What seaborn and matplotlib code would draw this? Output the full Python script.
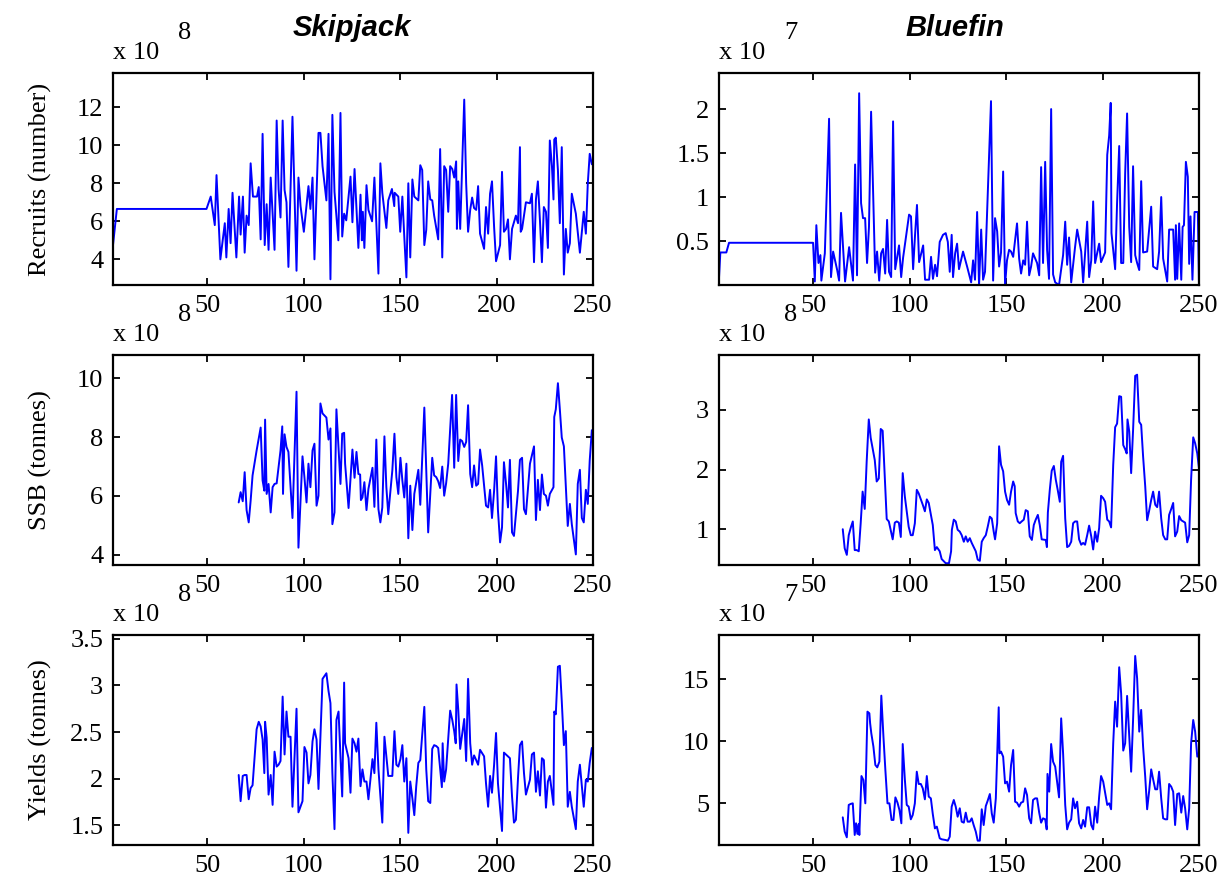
import numpy as np
import pandas as pd
import matplotlib
matplotlib.use("Agg")
import matplotlib.pyplot as plt
import seaborn as sns
from matplotlib.ticker import FuncFormatter

# ---- data (values in units of the axis multiplier) ----

# Skipjack recruits (x 10^8)
sk_rec_year = [1, 3, 49.5, 51.7, 53.8, 54.7, 56.7, 59, 59.8, 61,
               62, 63, 65, 66.4, 67.2, 68.4, 69.3, 70.3, 71.4, 72.4,
               73.6, 75.7, 76.6, 77.6, 78.6, 79.7, 80.7, 81.7, 82.8, 84.8,
               85.9, 86.9, 87.9, 89, 90, 91, 92, 94.1, 96.2, 97.2,
               98.3, 100, 102.4, 103.4, 104.5, 105.5, 107.6, 108.6, 109.7, 111.7,
               112.8, 113.8, 114.8, 115.9, 117.9, 119, 119.9, 120.9, 122, 124.2,
               125.2, 126.3, 128.3, 129.4, 130.1, 130.6, 131.4, 132.5, 133.5, 135.4,
               136.6, 138.7, 139.7, 140.7, 142.8, 143.8, 145.7, 146.9, 147.1, 149,
               150, 151.1, 152.1, 153.2, 154.2, 155.2, 156.3, 157.3, 159.4, 160.4,
               161.4, 162.5, 163.5, 164.5, 165.6, 166.6, 167.6, 169.7, 170.7, 171.8,
               172.8, 173.8, 174.9, 175.9, 177, 178, 179, 179.4, 180.1, 181.1,
               183.2, 184.2, 185.2, 186.3, 187.3, 188.3, 189.4, 190.4, 191.4, 193.5,
               194.5, 195.6, 196.6, 197.6, 198.7, 199.7, 201.8, 202.8, 203.8, 204.9,
               205.9, 206.9, 208, 210, 211.1, 212.1, 212.5, 213.2, 215.2, 217.3,
               218.3, 219.4, 220.4, 221.4, 222.5, 223.5, 224.5, 225.6, 226.6, 227.6,
               228.7, 229.5, 229.9, 230.7, 231.8, 232.8, 233.8, 234.9, 235.9, 236.9,
               238, 239, 241.1, 243.2, 245.2, 246.3, 247.3, 248.3, 249.4]
sk_rec = [4.75, 6.65, 6.65, 7.3, 5.8, 8.43, 4.0, 5.9, 4.1, 6.65,
          4.85, 7.5, 4.1, 7.3, 5.3, 7.3, 4.35, 6.3, 5.8, 9.05,
          7.3, 7.3, 7.8, 5.05, 10.6, 4.75, 6.9, 4.5, 8.3, 4.5,
          11.3, 7.7, 6.2, 11.3, 7.65, 7.0, 3.6, 11.5, 3.4, 8.3,
          6.8, 5.45, 7.85, 6.65, 8.3, 4.0, 10.65, 10.65, 8.9, 7.1,
          10.6, 2.95, 11.6, 7.55, 5.0, 11.7, 5.2, 6.4, 6.05, 8.35,
          5.95, 8.75, 4.6, 7.4, 5.0, 6.5, 4.6, 7.9, 6.6, 6.0,
          8.3, 3.25, 9.05, 7.5, 5.65, 7.1, 7.7, 6.8, 7.5, 7.3,
          5.45, 7.3, 5.2, 3.05, 8.0, 4.1, 8.2, 7.3, 7.1, 8.95,
          8.7, 4.75, 5.55, 8.1, 7.15, 7.1, 6.3, 5.05, 9.8, 4.1,
          8.9, 8.7, 6.5, 8.9, 8.75, 8.3, 9.15, 5.6, 8.1, 5.6,
          12.4, 8.0, 5.45, 6.6, 7.25, 6.7, 6.6, 7.85, 5.35, 4.55,
          6.75, 5.35, 7.45, 8.1, 5.7, 3.9, 4.75, 8.6, 5.45, 5.6,
          6.1, 4.0, 5.6, 6.3, 5.9, 9.9, 5.45, 5.6, 7.0, 6.95,
          7.45, 3.85, 7.15, 8.1, 6.0, 3.85, 6.75, 6.5, 4.6, 10.25,
          8.9, 7.15, 10.3, 10.4, 8.7, 5.9, 9.9, 3.2, 5.6, 4.35,
          4.85, 7.45, 6.4, 4.35, 6.5, 5.35, 8.0, 9.55, 9.0]

# Skipjack SSB (x 10^8)
sk_ssb_year = [66.2, 67.2, 68.3, 69.3, 70.3, 71.4, 72.4, 73.4, 75.5, 77.6,
               78.6, 79.5, 79.9, 80.7, 81.7, 82.8, 83.8, 84.8, 85.9, 87.9,
               88.8, 89.2, 90, 91, 92, 94.1, 96.2, 97.2, 99.3, 100.3,
               101.4, 102.4, 103.4, 104.5, 105.5, 106.6, 107.6, 108.6, 109.7, 111.7,
               112.8, 113.8, 114.8, 115.9, 116.9, 119, 119.9, 120.9, 121.4, 123.2,
               125.2, 126.3, 127.3, 128.3, 129.2, 129.6, 130.4, 131.4, 132.5, 133.5,
               135.6, 136.6, 137.6, 138.7, 139.7, 140.7, 141.8, 142.8, 143.8, 145.9,
               147, 148, 149, 150.1, 151.1, 152.1, 153.2, 154.2, 155.2, 156.3,
               157.3, 158.3, 159.4, 160.4, 162.5, 164.5, 166.6, 167.6, 168.7, 169.7,
               170.7, 171.8, 172.8, 173.8, 174.9, 176.9, 178, 179, 180.1, 181.1,
               182.1, 183.2, 184.2, 185.2, 186.3, 187.3, 188.3, 189.4, 190.4, 191.4,
               192.5, 194.5, 195.6, 196.6, 197.6, 198.7, 199.7, 200.7, 201.8, 202.8,
               203.8, 204.9, 205.9, 206.9, 208, 209, 211.1, 212.1, 213.2, 214.2,
               215.2, 217.3, 219.4, 220.4, 221.4, 222.5, 223.5, 224.5, 225.6, 226.6,
               227.6, 229.5, 229.9, 230.7, 231.8, 232.8, 233.8, 234.9, 236.9, 238,
               239, 241.1, 242.1, 243.2, 244.2, 245.2, 246.3, 247.3, 248.3, 249.4,
               250]
sk_ssb = [5.78, 6.13, 5.82, 6.81, 5.52, 5.1, 5.84, 6.7, 7.55, 8.33,
          6.53, 6.18, 8.6, 6.07, 6.41, 5.44, 6.3, 6.41, 6.43, 7.55,
          8.37, 6.07, 8.1, 7.67, 7.5, 5.25, 9.55, 4.24, 7.35, 6.64,
          5.78, 7.1, 6.3, 7.55, 7.78, 5.67, 6.01, 9.15, 8.81, 8.67,
          7.92, 8.3, 5.04, 5.44, 8.95, 6.41, 8.12, 8.15, 7.1, 5.59,
          7.58, 6.62, 7.5, 6.75, 6.73, 5.86, 5.95, 6.47, 5.52, 6.24,
          6.96, 5.63, 7.92, 5.55, 5.1, 5.61, 8.03, 6.3, 5.38, 6.87,
          8.12, 6.64, 6.07, 7.3, 6.53, 5.95, 7.1, 4.56, 6.35, 4.84,
          6.07, 6.47, 6.89, 5.7, 9.01, 4.76, 7.3, 6.7, 6.64, 6.5,
          6.27, 7.0, 6.01, 6.43, 7.1, 9.44, 6.96, 9.44, 7.19, 7.92,
          7.87, 7.67, 7.84, 9.09, 6.75, 6.3, 7.04, 6.35, 6.41, 7.58,
          7.04, 5.67, 5.61, 6.21, 5.25, 6.18, 7.35, 5.5, 4.42, 4.93,
          7.15, 6.41, 5.61, 7.23, 4.76, 4.64, 6.18, 7.23, 7.3, 5.55,
          5.38, 7.1, 7.69, 5.18, 6.55, 5.52, 6.73, 6.07, 6.01, 5.67,
          6.07, 6.3, 8.69, 8.95, 9.84, 8.95, 7.99, 7.69, 4.98, 5.73,
          5.04, 4.01, 6.41, 6.89, 5.25, 5.1, 6.21, 5.73, 7.21, 8.24,
          8.15]

# Skipjack yields (x 10^8)
sk_yld_year = [66.2, 67.2, 68.3, 69.3, 70.3, 71.4, 72.4, 73.4, 75.5, 76.6,
               77.6, 78.6, 79.5, 79.9, 80.7, 81.7, 82.8, 83.8, 84.8, 85.9,
               86.9, 87.9, 89, 90, 91, 92, 93.1, 94.1, 96.2, 97.2,
               99.3, 100.3, 101.4, 102.4, 103.4, 104.5, 105.5, 106.6, 107.6, 109.7,
               111.7, 112.8, 113.8, 114.8, 115.9, 116.9, 118, 119.9, 120.9, 121.4,
               123.2, 124.2, 125.2, 126.3, 127.3, 128.3, 129.4, 130.4, 131.4, 132.5,
               133.5, 135.6, 136.6, 137.6, 138.7, 140.7, 141.8, 142.8, 143.8, 145.9,
               147, 148, 149, 150.1, 151.1, 152.1, 153.2, 154.2, 155.2, 156.3,
               157.3, 158.3, 159.4, 160.4, 162.5, 163.5, 164.5, 165.6, 166.6, 167.6,
               168.7, 169.7, 171.6, 172, 172.8, 173.8, 175.9, 177, 178, 178.8,
               179.2, 180.1, 181.1, 183.2, 184.2, 185.2, 186.3, 187.3, 188.3, 189.4,
               190.4, 191.4, 193.5, 194.5, 195.6, 196.6, 197.6, 198.7, 199.7, 200.7,
               202.8, 203.8, 205.9, 206.9, 208, 209, 210, 211.1, 212.1, 213.2,
               214.2, 215.2, 217.3, 218.3, 219.4, 220.4, 221.4, 222.5, 223.5, 224.5,
               225.6, 226.6, 227.6, 229.5, 229.9, 230.7, 231.8, 232.8, 233.8, 234.9,
               235.9, 236.9, 238, 239, 241.1, 242.1, 243.2, 244.2, 245.2, 246.3,
               247.3, 248.3, 249.4, 250]
sk_yld = [2.04, 1.76, 2.03, 2.04, 2.04, 1.78, 1.9, 1.93, 2.53, 2.61,
          2.56, 2.42, 2.06, 2.61, 2.44, 1.83, 2.04, 1.72, 2.29, 2.13,
          2.15, 2.19, 2.88, 2.26, 2.72, 2.45, 2.45, 1.7, 2.75, 1.64,
          1.76, 2.34, 2.28, 1.95, 2.04, 2.4, 2.53, 2.42, 1.89, 3.07,
          3.13, 2.94, 2.81, 2.06, 1.46, 2.63, 2.72, 1.81, 3.03, 2.38,
          2.22, 1.85, 2.43, 2.38, 2.29, 2.43, 1.92, 2.1, 1.97, 1.97,
          1.78, 2.21, 2.06, 2.6, 2.1, 1.53, 2.45, 2.24, 2.03, 2.03,
          2.51, 2.15, 2.13, 2.21, 2.36, 1.97, 2.22, 1.42, 1.97, 1.79,
          1.61, 1.92, 2.17, 2.2, 2.77, 2.1, 1.76, 1.74, 2.32, 2.36,
          2.35, 2.33, 1.91, 2.38, 1.97, 2.1, 2.73, 2.63, 2.51, 2.38,
          3.01, 2.74, 2.32, 2.64, 2.19, 3.07, 2.38, 2.15, 2.25, 2.2,
          2.15, 2.31, 2.24, 1.95, 1.7, 2.03, 1.85, 2.15, 2.49, 1.95,
          1.44, 2.28, 2.24, 2.22, 1.81, 1.53, 1.56, 2.01, 2.36, 2.4,
          2.06, 1.83, 1.99, 2.26, 2.28, 1.86, 2.08, 1.82, 2.22, 2.2,
          1.69, 1.97, 2.03, 1.72, 2.72, 2.69, 3.2, 3.21, 2.83, 2.36,
          2.51, 1.7, 1.86, 1.7, 1.46, 1.97, 2.15, 1.92, 1.7, 1.99,
          1.97, 2.17, 2.33, 2.3]

# Bluefin recruits (x 10^7)
bf_rec_year = [0.8, 1.7, 4.8, 6.2, 49.8, 50.7, 51.5, 52.6, 53.6, 54.1,
               55.9, 58.1, 59.1, 60.2, 62.3, 63.3, 64.3, 66.4, 68.5, 70.5,
               71.6, 72.6, 73.7, 74.7, 75.7, 76.8, 77.8, 78.8, 79.9, 82,
               83, 84.1, 85.1, 86.1, 87.2, 88.2, 89.2, 90.3, 91.3, 92.4,
               94.4, 95.5, 96.5, 99.6, 100.6, 101.7, 102.7, 103.7, 104.8, 106.9,
               107.9, 110, 111, 112, 113.1, 114.1, 115.5, 117.2, 118.6, 119.7,
               120.7, 121.7, 122.4, 123.5, 124.5, 125.5, 127.6, 129.7, 131.8, 132.8,
               133.8, 134.9, 135.9, 137, 138, 139, 142.1, 143.2, 144.2, 145.3,
               146.3, 147.3, 148.4, 149.4, 150.4, 151.5, 152.5, 153.6, 154.6, 155.6,
               156.7, 157.7, 158.8, 159.8, 160.8, 161.9, 162.9, 163.9, 166, 167.1,
               168.1, 169.1, 170.2, 171.2, 172.2, 173.3, 174.3, 175.4, 177.4, 179.5,
               180.6, 181.6, 182.6, 183.7, 185.7, 186.8, 187.8, 188.9, 189.9, 192,
               193, 194.1, 195.1, 196.1, 198.2, 199.2, 201.3, 202.4, 203.4, 204.2,
               204.6, 206.5, 207.5, 208.6, 209.6, 210.7, 211.7, 212.7, 213.8, 214.8,
               215.8, 216.9, 217.9, 219, 220, 221, 223.1, 225.2, 226.2, 228.3,
               229.3, 230.4, 231.4, 233.5, 234.5, 236.6, 237.6, 238, 238.7, 239.7,
               240.8, 241.5, 242.2, 243.2, 244.2, 244.9, 245.6, 246.6, 247.7, 249.4,
               250]
bf_rec = [0.0, 0.37, 0.37, 0.48, 0.48, 0.04, 0.68, 0.25, 0.34, 0.05,
          0.36, 1.89, 0.09, 0.38, 0.17, 0.05, 0.82, 0.04, 0.43, 0.05,
          1.37, 0.11, 2.18, 0.93, 0.76, 0.76, 0.25, 0.66, 1.97, 0.14,
          0.38, 0.05, 0.36, 0.41, 0.13, 0.74, 0.15, 0.09, 1.86, 0.18,
          0.45, 0.09, 0.31, 0.8, 0.78, 0.18, 0.57, 0.91, 0.26, 0.45,
          0.06, 0.06, 0.32, 0.07, 0.23, 0.1, 0.49, 0.57, 0.59, 0.49,
          0.15, 0.57, 0.09, 0.36, 0.47, 0.18, 0.38, 0.21, 0.03, 0.28,
          0.06, 0.83, 0.0, 0.63, 0.06, 0.15, 2.09, 0.05, 0.76, 0.61,
          0.21, 0.37, 1.29, 0.0, 0.28, 0.4, 0.38, 0.32, 0.51, 0.7,
          0.3, 0.13, 0.28, 0.23, 0.72, 0.11, 0.21, 0.36, 0.25, 0.11,
          1.34, 0.25, 1.4, 0.4, 0.07, 2.0, 0.12, 0.03, 0.0, 0.34,
          0.72, 0.23, 0.54, 0.03, 0.43, 0.63, 0.51, 0.38, 0.03, 0.72,
          0.09, 0.28, 0.95, 0.25, 0.47, 0.26, 0.37, 1.48, 1.7, 2.07,
          0.59, 0.18, 0.93, 1.58, 0.25, 0.25, 1.27, 1.95, 0.66, 0.26,
          1.35, 0.34, 0.25, 0.17, 1.18, 0.37, 0.38, 0.89, 0.21, 0.18,
          0.38, 1.0, 0.3, 0.04, 0.63, 0.63, 0.06, 0.68, 0.07, 0.7,
          0.06, 0.66, 0.68, 1.4, 1.23, 0.24, 0.78, 0.06, 0.83, 0.83,
          0.0]

# Bluefin SSB (x 10^8)
bf_ssb_year = [65.2, 66.2, 67.3, 68.3, 69.3, 70.4, 71.4, 72.4, 73.5, 74.5,
               75.5, 76.6, 77.6, 78.7, 79.7, 81.8, 82.8, 83.9, 84.9, 85.9,
               88, 89.1, 91.1, 92.2, 93.2, 94.3, 95.3, 96.3, 97.4, 99.4,
               100.5, 101.5, 102.6, 103.6, 104.6, 106.7, 107.8, 108.8, 109.8, 111.9,
               113, 114, 115.5, 116.5, 118.6, 120.3, 121.4, 121.8, 122.8, 123.8,
               124.8, 125.9, 126.9, 128, 129, 130, 131.1, 132.1, 134.2, 135.2,
               136.3, 137.3, 138.3, 139.4, 140.4, 141.5, 142.5, 143.5, 144.2, 145.3,
               146.3, 147.3, 148.4, 149.4, 150.4, 151.5, 152.5, 153.6, 154.4, 154.9,
               156, 157, 158, 159.1, 160.1, 161.2, 162.2, 163.3, 164.3, 165.3,
               166.4, 167.4, 168.4, 170.5, 171.1, 171.6, 172.6, 173.6, 174.7, 175.7,
               176.7, 177.8, 178.5, 179.5, 180.6, 181.6, 182.6, 183.7, 184.7, 185.7,
               186.8, 187.8, 188.9, 189.9, 190.9, 192, 193, 194.1, 195.1, 196.1,
               197.2, 198.2, 199.2, 200.3, 201.3, 202.4, 203.4, 204.4, 205.5, 206.5,
               207.5, 208.6, 209.6, 210.7, 211.7, 212.5, 212.9, 213.8, 214.8, 215.8,
               216.9, 217.9, 219, 220, 221, 222.1, 223.1, 224.2, 225.2, 226.2,
               227.3, 228.3, 229.3, 230.4, 231.4, 232.5, 233.5, 234.5, 235.6, 236.6,
               237.6, 238.7, 239.7, 240.8, 241.8, 242.8, 243.9, 244.9, 245.9, 247,
               248, 249.1, 250]
bf_ssb = [1.0, 0.68, 0.57, 0.9, 1.02, 1.13, 0.65, 0.65, 0.63, 1.1,
          1.63, 1.34, 2.13, 2.84, 2.53, 2.16, 1.8, 1.85, 2.68, 2.65,
          1.17, 1.13, 0.83, 1.11, 1.13, 1.11, 0.87, 1.94, 1.55, 1.04,
          0.9, 0.9, 1.1, 1.66, 1.6, 1.41, 1.3, 1.5, 1.44, 1.07,
          0.65, 0.7, 0.63, 0.5, 0.43, 0.43, 0.63, 0.99, 1.16, 1.13,
          0.99, 0.96, 0.9, 0.79, 0.88, 0.79, 0.85, 0.77, 0.63, 0.49,
          0.47, 0.79, 0.85, 0.9, 1.04, 1.21, 1.18, 0.96, 0.83, 1.1,
          2.39, 2.08, 1.97, 1.63, 1.49, 1.41, 1.63, 1.8, 1.72, 1.27,
          1.13, 1.1, 1.13, 1.16, 1.32, 1.3, 0.88, 0.82, 1.07, 1.16,
          1.24, 1.07, 0.83, 0.82, 0.7, 1.28, 1.66, 1.98, 2.06, 1.83,
          1.66, 1.46, 2.13, 2.23, 1.18, 0.7, 0.72, 0.79, 1.1, 1.13,
          1.13, 0.83, 0.74, 0.77, 0.74, 0.9, 1.06, 0.88, 0.66, 0.96,
          0.79, 1.02, 1.56, 1.52, 1.46, 1.16, 1.13, 1.03, 2.08, 2.71,
          2.77, 3.23, 3.22, 2.41, 2.34, 2.27, 2.84, 2.64, 1.94, 2.66,
          3.57, 3.59, 2.8, 2.75, 2.22, 1.72, 1.15, 1.32, 1.49, 1.63,
          1.41, 1.37, 1.63, 1.18, 0.9, 0.83, 0.83, 1.24, 1.34, 1.44,
          0.88, 0.96, 1.22, 1.15, 1.13, 1.11, 0.78, 0.9, 1.83, 2.54,
          2.44, 2.27, 2.02]

# Bluefin yields (x 10^7)
bf_yld_year = [65.2, 66.2, 67.3, 68.3, 69.3, 70.4, 71.4, 72.1, 72.8, 73.5,
               73.8, 74.9, 75.9, 76.9, 78, 79, 79.4, 80, 81.1, 82.1,
               83.1, 84.2, 85.2, 86.3, 87.3, 88.4, 89.4, 90.5, 91.5, 92.5,
               93.6, 94.6, 95.6, 96.3, 97.4, 98.4, 99.4, 100.5, 101.5, 102.6,
               103.6, 104.6, 105.7, 106.7, 107.8, 108.8, 109.8, 110.9, 111.9, 113,
               114, 115.5, 116.5, 118.6, 119.7, 120.7, 121.7, 122.8, 123.8, 124.8,
               125.9, 126.9, 128, 129, 130, 131.1, 132.1, 133.1, 134.2, 135.2,
               136.3, 137.3, 138.3, 139.4, 140.4, 141.5, 142.5, 143.5, 144.6, 146.1,
               146.5, 147.3, 148.4, 149.4, 150.4, 151.5, 152.5, 153.6, 154.6, 155.6,
               156.7, 157.7, 158.8, 159.8, 160.8, 161.9, 162.9, 163.9, 165, 166,
               167.1, 168.1, 169.1, 170.2, 171, 171.4, 172.3, 173.3, 174.3, 175.4,
               177.4, 178.5, 179.5, 180.6, 181.6, 182.6, 183.7, 184.7, 185.7, 186.8,
               187.8, 188.9, 189.9, 190.9, 192, 193, 194.1, 195.1, 196.1, 197.2,
               198.2, 199.2, 200.3, 201.3, 202.4, 203.4, 204.4, 205.5, 206.5, 207.5,
               208.6, 209.6, 210.7, 211.7, 212.7, 213.8, 214.8, 215.8, 216.9, 217.9,
               219, 220, 221, 222.1, 223.1, 224.2, 225.2, 226.2, 227.3, 228.3,
               229.3, 230.4, 231.4, 232.5, 233.5, 234.5, 235.6, 236.6, 237.6, 238.7,
               239.7, 240.8, 241.8, 242.8, 243.9, 244.9, 245.9, 247, 248, 249.1,
               250]
bf_yld = [3.87, 2.72, 2.26, 4.87, 4.95, 5.0, 2.45, 3.39, 2.53, 3.33,
          2.45, 7.2, 6.88, 5.0, 12.39, 12.26, 11.45, 10.65, 9.57, 8.09,
          7.9, 8.36, 13.68, 10.38, 7.69, 5.0, 5.0, 3.66, 3.66, 5.48,
          5.05, 4.46, 3.39, 9.78, 6.94, 4.87, 4.73, 3.71, 4.06, 5.0,
          7.55, 6.56, 6.56, 6.21, 5.32, 7.2, 5.54, 5.4, 4.14, 2.98,
          3.12, 2.18, 2.1, 2.04, 1.99, 2.31, 4.73, 5.27, 4.73, 3.92,
          4.6, 3.52, 3.44, 4.25, 3.52, 3.52, 3.79, 3.25, 2.72, 1.99,
          1.99, 4.52, 3.25, 4.78, 5.22, 5.75, 4.19, 3.44, 5.4, 12.74,
          9.03, 9.17, 8.76, 6.61, 6.75, 5.94, 8.09, 9.3, 5.13, 5.05,
          4.73, 5.05, 5.13, 6.21, 5.67, 3.79, 3.39, 5.27, 5.4, 5.4,
          4.25, 3.44, 3.79, 3.71, 2.9, 7.37, 5.94, 9.78, 8.36, 7.96,
          5.48, 11.85, 9.03, 4.87, 2.9, 3.44, 3.71, 5.4, 4.6, 5.13,
          3.39, 2.98, 3.66, 3.12, 4.68, 4.68, 3.25, 2.9, 4.73, 3.44,
          5.54, 7.2, 6.75, 5.86, 4.87, 5.0, 4.52, 9.84, 13.2, 11.18,
          15.97, 13.87, 9.25, 9.84, 13.66, 10.38, 7.55, 11.72, 16.88, 15.08,
          10.78, 12.53, 9.57, 7.15, 4.52, 6.08, 7.74, 6.94, 6.13, 6.13,
          7.55, 5.4, 3.79, 3.71, 3.71, 6.56, 6.34, 5.94, 3.25, 5.75,
          5.81, 4.25, 5.59, 4.6, 2.9, 4.6, 9.84, 11.72, 10.78, 8.76,
          9.08]

x_ticks = [50, 100, 150, 200, 250]

# ---- figure ----
sns.set_style("ticks")
plt.rcParams['font.family'] = ['Liberation Serif', 'DejaVu Serif']
plt.rcParams['text.color'] = 'black'
plt.rcParams['axes.labelcolor'] = 'black'
plt.rcParams['axes.edgecolor'] = 'black'
plt.rcParams['axes.linewidth'] = 1.6
plt.rcParams['xtick.direction'] = 'in'
plt.rcParams['ytick.direction'] = 'in'
plt.rcParams['xtick.top'] = True
plt.rcParams['ytick.right'] = True

W, H = 1227, 894
fig = plt.figure(figsize=(W / 100, H / 100), dpi=100)


def px_ax(left, top, right, bottom):
    return fig.add_axes([left / W, 1 - bottom / H, (right - left) / W, (bottom - top) / H])


panels = [
    # (x, y, axes box in px, ylim, yticks, ylabel, exponent)
    (sk_rec_year, sk_rec, (113, 73, 593, 285), (2.65, 13.8), [4, 6, 8, 10, 12], 'Recruits (number)', '8'),
    (bf_rec_year, bf_rec, (719, 73, 1199, 285), (0, 2.41), [0.5, 1, 1.5, 2], None, '7'),
    (sk_ssb_year, sk_ssb, (113, 355, 593, 565), (3.65, 10.8), [4, 6, 8, 10], 'SSB (tonnes)', '8'),
    (bf_ssb_year, bf_ssb, (719, 355, 1199, 565), (0.4, 3.92), [1, 2, 3], None, '8'),
    (sk_yld_year, sk_yld, (113, 635, 593, 845), (1.29, 3.54), [1.5, 2, 2.5, 3, 3.5], 'Yields (tonnes)', '8'),
    (bf_yld_year, bf_yld, (719, 635, 1199, 845), (1.64, 18.57), [5, 10, 15], None, '7'),
]

fmt = FuncFormatter(lambda v, p: '%g' % v)

for xs, ys, box, ylim, yticks, ylabel, expo in panels:
    ax = px_ax(*box)
    df = pd.DataFrame({'year': xs, 'value': ys})
    sns.lineplot(data=df, x='year', y='value', ax=ax, color='#0000ff',
                 linewidth=1.4, estimator=None, sort=False)
    ax.set_xlim(1, 250)
    ax.set_ylim(*ylim)
    ax.set_xticks(x_ticks)
    ax.set_yticks(yticks)
    ax.yaxis.set_major_formatter(fmt)
    ax.tick_params(labelsize=19, length=5, width=1.3, pad=7, colors='black')
    ax.set_xlabel('')
    ax.set_ylabel(ylabel if ylabel else '', fontsize=19)
    if ylabel:
        ax.yaxis.set_label_coords(-0.128, 0.5)
    # "x 10^n" multiplier above the axes
    left, top = box[0], box[1]
    fig.text(left / W, 1 - (top - 20) / H, 'x 10', fontsize=19, ha='left', va='center')
    fig.text((left + 72) / W, 1 - (top - 40) / H, expo, fontsize=19, ha='center', va='center')

fig.text(352 / W, 1 - 28 / H, 'Skipjack', fontsize=21, fontweight='bold', fontstyle='italic',
         family=['Liberation Sans', 'DejaVu Sans'], ha='center', va='center')
fig.text(955 / W, 1 - 28 / H, 'Bluefin', fontsize=21, fontweight='bold', fontstyle='italic',
         family=['Liberation Sans', 'DejaVu Sans'], ha='center', va='center')

fig.savefig('out.png', dpi=100)
